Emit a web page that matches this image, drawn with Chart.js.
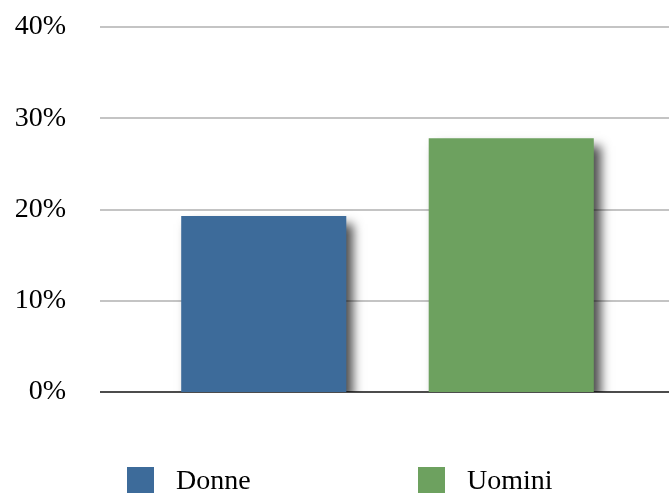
<!DOCTYPE html>
<html lang="it">
<head>
    <meta charset="UTF-8">
    <title>Donne / Uomini</title>
    <script src="https://cdn.jsdelivr.net/npm/chart.js"></script>
    <style>
        html, body { margin: 0; padding: 0; background: #fff; }
        #wrap { position: relative; width: 669px; height: 493px; }
        #legend {
            position: absolute; left: 0; top: 464px; width: 669px; height: 30px;
            font-family: "Liberation Serif", "Times New Roman", serif; font-size: 28px; color: #000;
        }
        .item { position: absolute; top: 0; display: flex; align-items: center; }
        .box { width: 27px; height: 26px; margin-right: 22px; }
    </style>
</head>
<body>
<div id="wrap">
    <canvas id="chart" width="669" height="493"></canvas>
    <div id="legend"></div>
</div>

<script>
    // data
    const categories = ['Donne', 'Uomini'];
    const values = [19.3, 27.8];
    const colors = ['#3d6b9a', '#6da15f'];
    const yTicks = [0, 10, 20, 30, 40];

    const font = { family: '"Liberation Serif", "Times New Roman", serif', size: 28 };

    // long grid lines that run past the plot area, like the original
    const gridPlugin = {
        id: 'longGrid',
        beforeDatasetsDraw(chart) {
            const ctx = chart.ctx;
            const y = chart.scales.y;
            ctx.save();
            yTicks.forEach(v => {
                const py = Math.round(y.getPixelForValue(v));
                ctx.beginPath();
                ctx.moveTo(100, py);
                ctx.lineTo(chart.width, py);
                ctx.lineWidth = v === 0 ? 1.5 : 2;
                ctx.strokeStyle = v === 0 ? '#111' : '#c4c4c4';
                ctx.stroke();
            });
            ctx.restore();
        }
    };

    // drop shadow behind bars
    const shadowPlugin = {
        id: 'barShadow',
        beforeDatasetDraw(chart) {
            const ctx = chart.ctx;
            ctx.save();
            ctx.shadowColor = 'rgba(0,0,0,0.7)';
            ctx.shadowBlur = 10;
            ctx.shadowOffsetX = 7;
            ctx.shadowOffsetY = 8;
        },
        afterDatasetDraw(chart) {
            chart.ctx.restore();
        }
    };

    new Chart(document.getElementById('chart'), {
        type: 'bar',
        data: {
            labels: categories,
            datasets: [{
                data: values,
                backgroundColor: colors,
                borderWidth: 0,
                barPercentage: 0.667,
                categoryPercentage: 1
            }]
        },
        options: {
            responsive: false,
            animation: false,
            layout: { padding: { left: 0, right: 34, top: 27, bottom: 101 } },
            plugins: { legend: { display: false }, tooltip: { enabled: false } },
            scales: {
                x: { display: false },
                y: {
                    min: 0,
                    max: 40,
                    afterFit(scale) {
                        scale.width = 140;
                        scale.paddingTop = 14;
                        scale.paddingBottom = 14;
                    },
                    afterBuildTicks(scale) { scale.ticks = yTicks.map(v => ({ value: v })); },
                    border: { display: false },
                    grid: { display: false, drawTicks: false },
                    ticks: {
                        padding: 74,
                        color: '#000',
                        font: font,
                        callback: v => v + '%'
                    }
                }
            }
        },
        plugins: [gridPlugin, shadowPlugin]
    });

    // legend
    const legendLeft = [127, 418];
    const legend = document.getElementById('legend');
    categories.forEach((c, i) => {
        const item = document.createElement('div');
        item.className = 'item';
        item.style.left = legendLeft[i] + 'px';
        item.innerHTML = '<span class="box" style="background:' + colors[i] + '"></span><span>' + c + '</span>';
        legend.appendChild(item);
    });
</script>
</body>
</html>
